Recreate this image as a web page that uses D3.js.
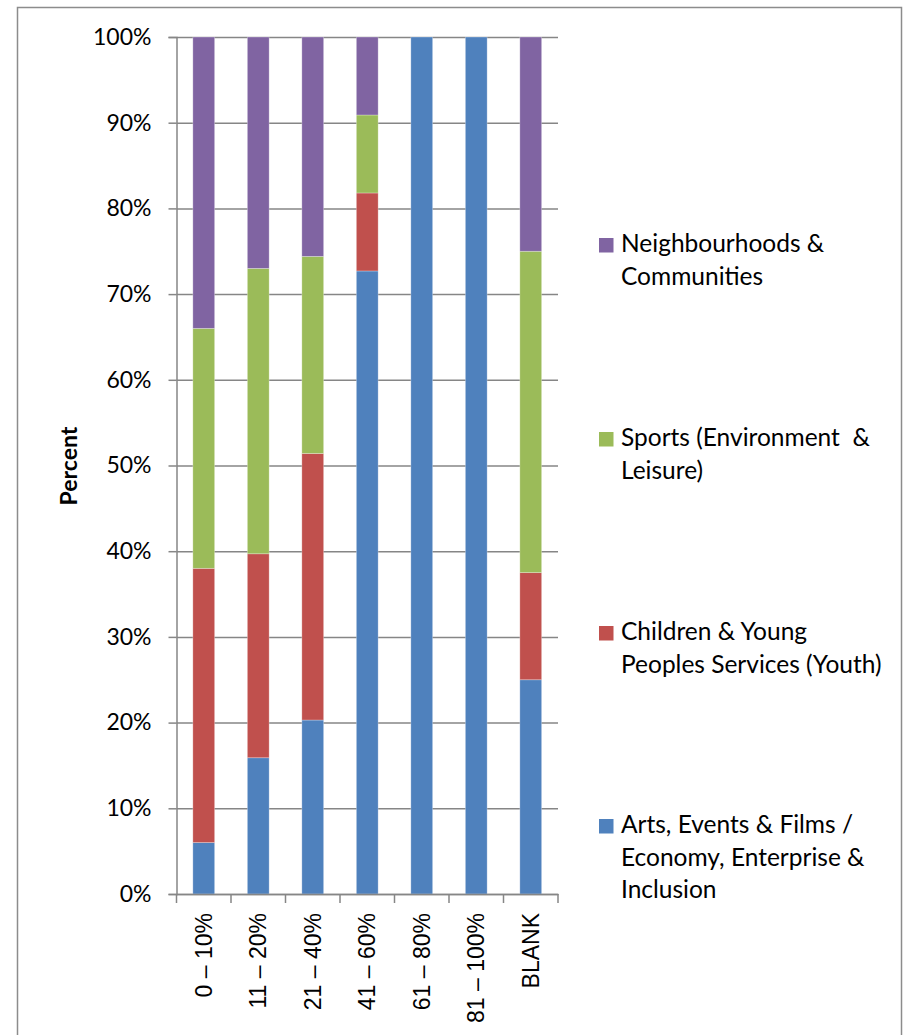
<!DOCTYPE html>
<html>
<head>
<meta charset="utf-8">
<script src="https://cdn.jsdelivr.net/npm/d3@7"></script>
<style>
  body { margin: 0; background: #fff; }
  svg { display: block; }
  .ytick text { font-family: Lato, "Open Sans", sans-serif; font-size: 23px; fill: #000; }
  .xtick text { font-family: "Liberation Sans", Arial, sans-serif; font-size: 23px; fill: #000; }
  .legend text { font-family: Lato, "Open Sans", sans-serif; font-size: 24.5px; fill: #000; }
</style>
</head>
<body>
<svg width="903" height="1035"></svg>
<script>
const width = 903, height = 1035;
const svg = d3.select("svg");

// categories and series (percent of each bar)
const categories = ["0 \u2013 10%", "11 \u2013 20%", "21 \u2013 40%", "41 \u2013 60%", "61 \u2013 80%", "81 \u2013 100%", "BLANK"];
const seriesNames = ["Arts", "Children", "Sports", "Neighbourhoods"];
const arts           = [6.0, 15.9, 20.3, 72.7, 100, 100, 25.0];
const children       = [32.0, 23.8, 31.1, 9.1, 0, 0, 12.5];
const sports         = [28.0, 33.3, 23.0, 9.1, 0, 0, 37.5];
const neighbourhoods = [34.0, 27.0, 25.6, 9.1, 0, 0, 25.0];
const yTicks = [0, 10, 20, 30, 40, 50, 60, 70, 80, 90, 100];

const colors = {
    Arts: "#4F81BD",
    Children: "#C0504D",
    Sports: "#9BBB59",
    Neighbourhoods: "#8064A2"
};

// legend, top to bottom, each label as wrapped lines
const legendItems = [
    { key: "Neighbourhoods", lines: ["Neighbourhoods &", "Communities"] },
    { key: "Sports", lines: ["Sports (Environment\u00a0 &", "Leisure)"] },
    { key: "Children", lines: ["Children & Young", "Peoples Services (Youth)"] },
    { key: "Arts", lines: ["Arts, Events & Films /", "Economy, Enterprise &", "Inclusion"] }
];

const table = categories.map((c, i) => ({
    cat: c,
    Arts: arts[i],
    Children: children[i],
    Sports: sports[i],
    Neighbourhoods: neighbourhoods[i]
}));

const plot = { left: 176.5, right: 558, top: 37, bottom: 894 };

const x = d3.scaleBand().domain(categories).range([plot.left, plot.right]).paddingInner(0.6).paddingOuter(0.3);
const band = d3.scaleBand().domain(categories).range([plot.left, plot.right]);
const y = d3.scaleLinear().domain([0, 100]).range([plot.bottom, plot.top]);

// outer frame
svg.append("rect").attr("x", 17.5).attr("y", 7.5).attr("width", 884).attr("height", 1040)
    .attr("fill", "none").attr("stroke", "#8c8c8c").attr("stroke-width", 1.5);

// gridlines + y axis
const yAxis = svg.append("g").attr("class", "ytick").attr("transform", `translate(${plot.left},0)`)
    .call(d3.axisLeft(y).tickValues(yTicks).tickFormat(d => d + "%").tickSize(8).tickPadding(17));
yAxis.select(".domain").attr("stroke", "#868686").attr("stroke-width", 1.5);
yAxis.selectAll(".tick line").attr("stroke", "#868686").attr("stroke-width", 1.5);
yAxis.selectAll(".tick").append("line")
    .attr("x1", 0).attr("x2", plot.right - plot.left)
    .attr("stroke", "#868686").attr("stroke-width", 1.5);

// stacked bars
const stack = d3.stack().keys(seriesNames)(table);
svg.append("g").selectAll("g").data(stack).join("g")
    .attr("fill", d => colors[d.key])
    .selectAll("rect").data(d => d.filter(s => s[1] - s[0] > 0)).join("rect")
    .attr("x", d => x(d.data.cat))
    .attr("width", x.bandwidth())
    .attr("y", d => y(d[1]))
    .attr("height", d => y(d[0]) - y(d[1]))
    .attr("stroke", "#ffffff").attr("stroke-opacity", 0.35).attr("stroke-width", 0.8);

// x axis
const xAxis = svg.append("g").attr("class", "xtick").attr("transform", `translate(0,${plot.bottom})`)
    .call(d3.axisBottom(band).tickSize(0).tickFormat(""));
xAxis.select(".domain").attr("stroke", "#868686").attr("stroke-width", 1.5);
xAxis.selectAll(".boundary").data(d3.range(categories.length + 1)).join("line")
    .attr("x1", i => plot.left + i * band.step()).attr("x2", i => plot.left + i * band.step())
    .attr("y1", 0).attr("y2", 9)
    .attr("stroke", "#868686").attr("stroke-width", 1.5);
xAxis.selectAll(".lbl").data(categories).join("text")
    .attr("transform", d => `translate(${band(d) + band.bandwidth() / 2},19) rotate(-90)`)
    .attr("text-anchor", "end").attr("dy", "0.35em")
    .text(d => d);

// y axis title
svg.append("text")
    .attr("transform", `translate(69,466) rotate(-90)`)
    .attr("text-anchor", "middle").attr("dy", "0.35em")
    .style("font-family", "Lato, 'Open Sans', sans-serif").style("font-size", "23px").style("font-weight", "bold")
    .text("Percent");

// legend
const legendBaselines = [252, 446, 640, 833];
const legend = svg.selectAll(".legend").data(legendItems).join("g")
    .attr("class", "legend")
    .attr("transform", (d, i) => `translate(599,${legendBaselines[i]})`);
legend.append("rect").attr("x", 0).attr("y", -14).attr("width", 14.5).attr("height", 14.5)
    .attr("fill", d => colors[d.key]);
legend.each(function (d) {
    const t = d3.select(this).append("text").attr("x", 22).attr("y", 0);
    d.lines.forEach((line, j) => {
        t.append("tspan").attr("x", 22).attr("y", j * 32.7).text(line);
    });
});
</script>
</body>
</html>
